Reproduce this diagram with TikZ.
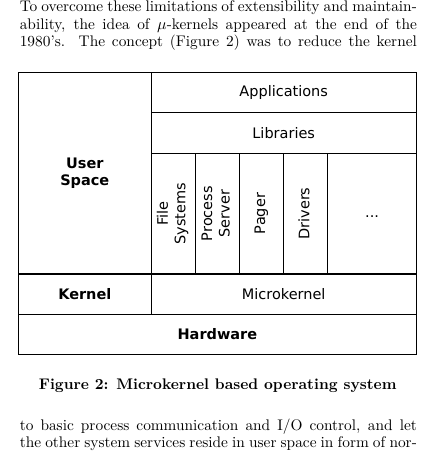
\documentclass[tikz,border=0pt]{standalone}
\usepackage{fontspec}
\usepackage{graphicx}
\newfontfamily\diagfont{DejaVu Sans}
\usetikzlibrary{math}
\usetikzlibrary{positioning}

\newcommand{\fullline}[1]{\makebox[274pt][s]{#1}}
\newcommand{\vlabel}[1]{\rotatebox{90}{\begin{tabular}{@{}c@{}}#1\end{tabular}}}

\tikzset{
  layer/.style 2 args={draw, line width=0.8pt, inner sep=0pt, outer sep=0pt,
    anchor=north west, align=center, font=\diagfont,
    minimum width={#1*\colw*\px*1pt}, minimum height={#2*\rowh*\px*1pt}},
  textline/.style={anchor=base west, inner sep=0pt,
    font=\fontsize{10.6}{12.7}\selectfont},
}

\begin{document}
\begin{tikzpicture}[x=0.69pt,y=-0.69pt]

  \tikzmath{
    \px   = 0.69;  % pt per pixel of the page
    \colw = 44.2;  % width of one service column
    \rowh = 40.3;  % height of one layer
  }

  \useasboundingbox (0,0) rectangle (444,451);

  % text above the figure
  \node[textline] (par1) at (19.5,11.5) {\fullline{To overcome these limitations of extensibility and maintain-}};
  \node[textline] (par2) at (19.5,29)   {\fullline{ability, the idea of $\mu$-kernels appeared at the end of the}};
  \node[textline] (par3) at (19.5,46.5) {\fullline{1980's.\ \ The concept (Figure 2) was to reduce the kernel}};

  % top left corner of the layers
  \coordinate (TL) at (18.5,72.5);

  % user space
  \node[layer={3}{5}] (user) at (TL) {\bfseries User\\\bfseries Space};
  \node[layer={6}{1}] (apps) at (user.north east) {Applications};
  \node[layer={6}{1}] (libs) at (apps.south west) {Libraries};

  % servers
  \node[layer={1}{3}] (fs)      at (libs.south west) {\vlabel{File\\Systems}};
  \node[layer={1}{3}] (proc)    at (fs.north east)   {\vlabel{Process\\Server}};
  \node[layer={1}{3}] (pager)   at (proc.north east) {\vlabel{Pager}};
  \node[layer={1}{3}] (drivers) at (pager.north east) {\vlabel{Drivers}};
  \node[layer={2}{3}] (more)    at (drivers.north east) {\strut...};

  % kernel and hardware
  \node[layer={3}{1}] (kernel) at (user.south west)   {\bfseries Kernel};
  \node[layer={6}{1}] (micro)  at (kernel.north east) {Microkernel};
  \node[layer={9}{1}] (hw)     at (kernel.south west) {\bfseries Hardware};

  % caption
  \node[textline, anchor=base] (caption) at (217.7,389)
    {\bfseries Figure 2: Microkernel based operating system};

  % text below the figure
  \node[textline] (par4) at (19.5,430) {\fullline{to basic process communication and I/O control, and let}};
  \node[textline] (par5) at (19.5,447) {\fullline{the other system services reside in user space in form of nor-}};

\end{tikzpicture}
\end{document}
